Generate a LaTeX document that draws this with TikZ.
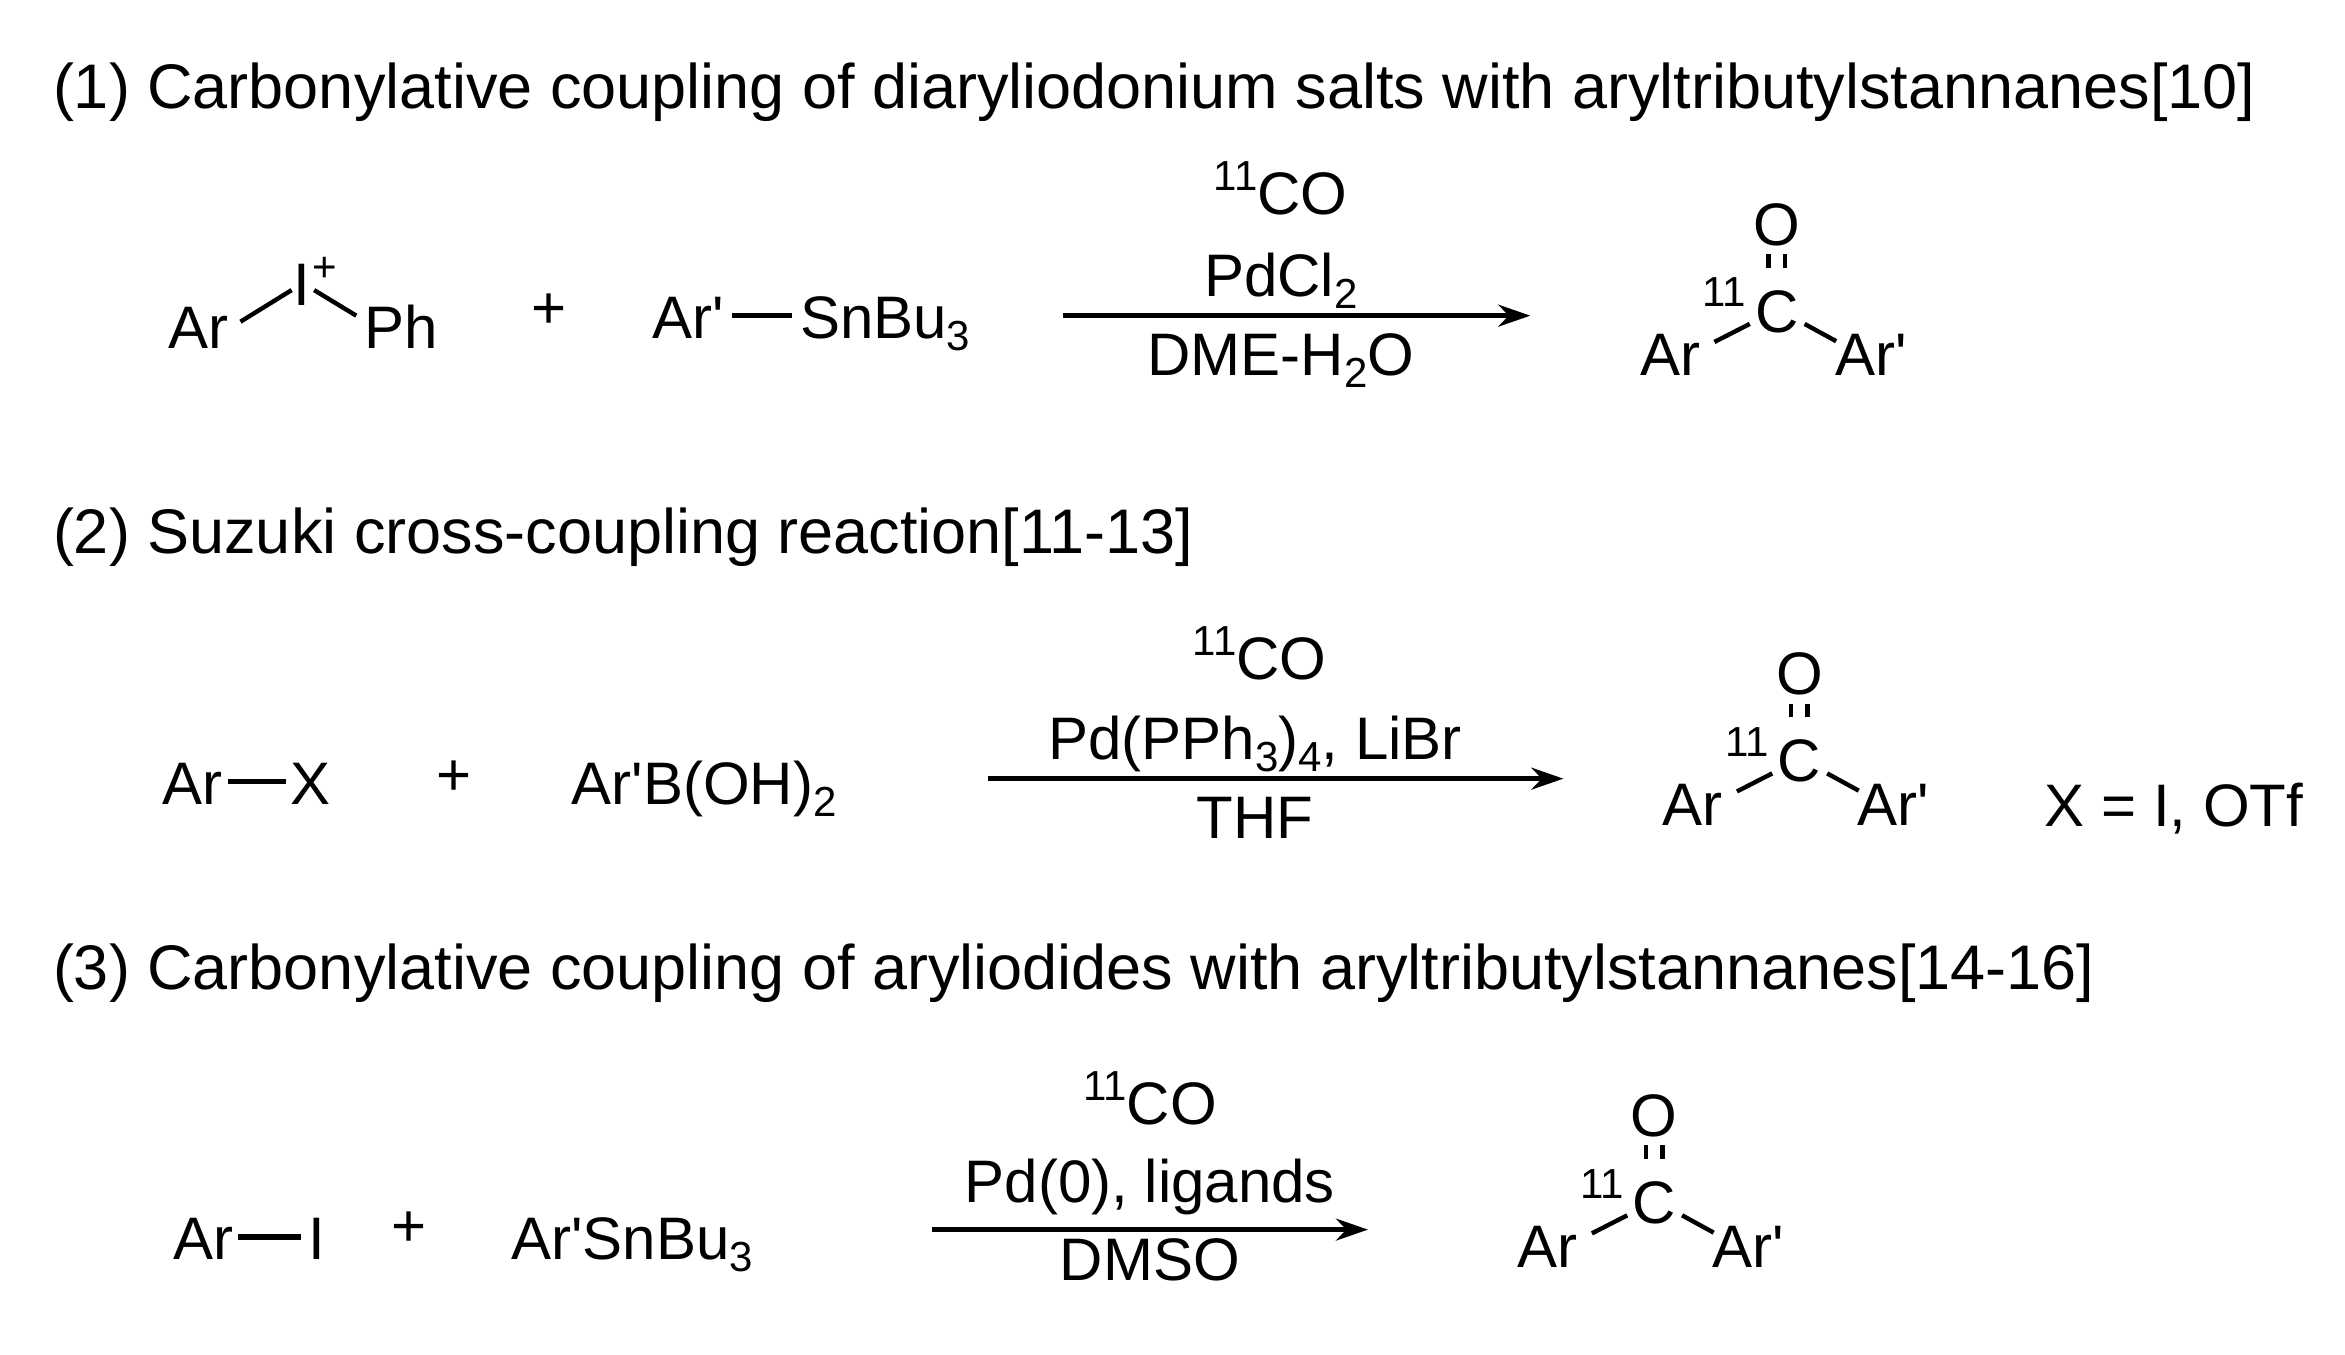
\documentclass[tikz,border=0pt]{standalone}
\usepackage{fontspec}
\setmainfont{Liberation Sans}
\usetikzlibrary{arrows.meta,calc}
\tikzset{
  txt/.style={inner sep=0pt,font=\fontsize{30}{36}\selectfont},
  ttl/.style={inner sep=0pt,font=\fontsize{31.5}{36}\selectfont},
  sup/.style={inner sep=0pt,font=\fontsize{21}{24}\selectfont},
  bond/.style={line width=2.2pt},
  rxn/.style={line width=2.2pt,-{Stealth[length=16pt,width=11pt]}}
}
\newcommand{\sbs}[1]{\raisebox{-6pt}{\fontsize{21}{24}\selectfont #1}}
\newcommand{\sps}[1]{\raisebox{12pt}{\fontsize{21}{24}\selectfont #1}}
\newcommand{\pr}{\textquotesingle}
\newcommand{\ketone}[3]{%
  \node[txt,anchor=base] (#1C) at (#2,#3) {C};
  \node[sup,anchor=base east] (#1iso) at ($(#2-20,#3-17)$) {11};
  \node[txt,anchor=base] (#1O) at ($(#2,#3-58)$) {O};
  \draw[bond] ($(#2-5.5,#3-52)$) -- ($(#2-5.5,#3-43)$);
  \draw[bond] ($(#2+5.5,#3-52)$) -- ($(#2+5.5,#3-43)$);
  \node[txt,anchor=base west] (#1Ar) at ($(#2-91,#3+29)$) {Ar};
  \node[txt,anchor=base west] (#1Arp) at ($(#2+38.5,#3+29)$) {Ar\pr};
  \draw[bond] ($(#2-41.5,#3+6.5)$) -- ($(#2-18,#3-5.5)$);
  \draw[bond] ($(#2+18.5,#3-5.5)$) -- ($(#2+39.5,#3+6)$);
}
\begin{document}
\begin{tikzpicture}[x=0.7516pt,y=-0.7516pt]
\useasboundingbox (0,0) rectangle (1560,901);
\fill[white] (0,0) rectangle (1560,901);
% titles
\node[ttl,anchor=base west] (t1) at (35,72) {(1) Carbonylative coupling of diaryliodonium salts with aryltributylstannanes[10]};
\node[ttl,anchor=base west] (t2) at (35,368) {(2) Suzuki cross-coupling reaction[11-13]};
\node[ttl,anchor=base west] (t3) at (35,658) {(3) Carbonylative coupling of aryliodides with aryltributylstannanes[14-16]};
% row 1
\node[txt,anchor=base west] (r1ar) at (112,232) {Ar};
\node[txt,anchor=base] (r1i) at (201,203) {I};
\node[sup,anchor=base] (r1plus) at (216,187) {+};
\node[txt,anchor=base west] (r1ph) at (242,232) {Ph};
\draw[bond] (160,214) -- (194,193);
\draw[bond] (209,193) -- (237,210);
\node[txt] (p1) at (365,207) {+};
\node[txt,anchor=base west] (r1arp) at (434,225) {Ar\pr};
\node[txt,anchor=base west] (r1sn) at (532,225) {SnBu\sbs{3}};
\draw[bond] (487,210) -- (527,210);
\coordinate (a1s) at (707,210);
\coordinate (a1e) at (1018,210);
\draw[rxn] (a1s) -- (a1e);
\node[txt,anchor=base] (c1a) at (852,143) {\sps{11}CO};
\node[txt,anchor=base] (c1b) at (852,197) {PdCl\sbs{2}};
\node[txt,anchor=base] (c1c) at (852,250) {DME-H\sbs{2}O};
\ketone{k1}{1182}{221}
% row 2
\node[txt,anchor=base west] (r2ar) at (108,535) {Ar};
\draw[bond] (152,520) -- (190,520);
\node[txt,anchor=base west] (r2x) at (193,535) {X};
\node[txt] (p2) at (302,518) {+};
\node[txt,anchor=base west] (r2b) at (380,535) {Ar\pr B(OH)\sbs{2}};
\coordinate (a2s) at (657,518);
\coordinate (a2e) at (1040,518);
\draw[rxn] (a2s) -- (a2e);
\node[txt,anchor=base] (c2a) at (838,452) {\sps{11}CO};
\node[txt,anchor=base] (c2b) at (835,505) {Pd(PPh\sbs{3})\sbs{4}, LiBr};
\node[txt,anchor=base] (c2c) at (835,558) {THF};
\ketone{k2}{1197}{520}
\node[txt,anchor=base west] (x2) at (1360,550) {X = I, OTf};
% row 3
\node[txt,anchor=base west] (r3ar) at (115,838) {Ar};
\draw[line width=3pt] (158,823) -- (200,823);
\node[txt,anchor=base west] (r3i) at (205,838) {I};
\node[txt] (p3) at (272,818) {+};
\node[txt,anchor=base west] (r3sn) at (340,838) {Ar\pr SnBu\sbs{3}};
\coordinate (a3s) at (620,818);
\coordinate (a3e) at (910,818);
\draw[rxn] (a3s) -- (a3e);
\node[txt,anchor=base] (c3a) at (765,748) {\sps{11}CO};
\node[txt,anchor=base] (c3b) at (765,800) {Pd(0), ligands};
\node[txt,anchor=base] (c3c) at (765,852) {DMSO};
\ketone{k3}{1100.5}{814}
\end{tikzpicture}
\end{document}
